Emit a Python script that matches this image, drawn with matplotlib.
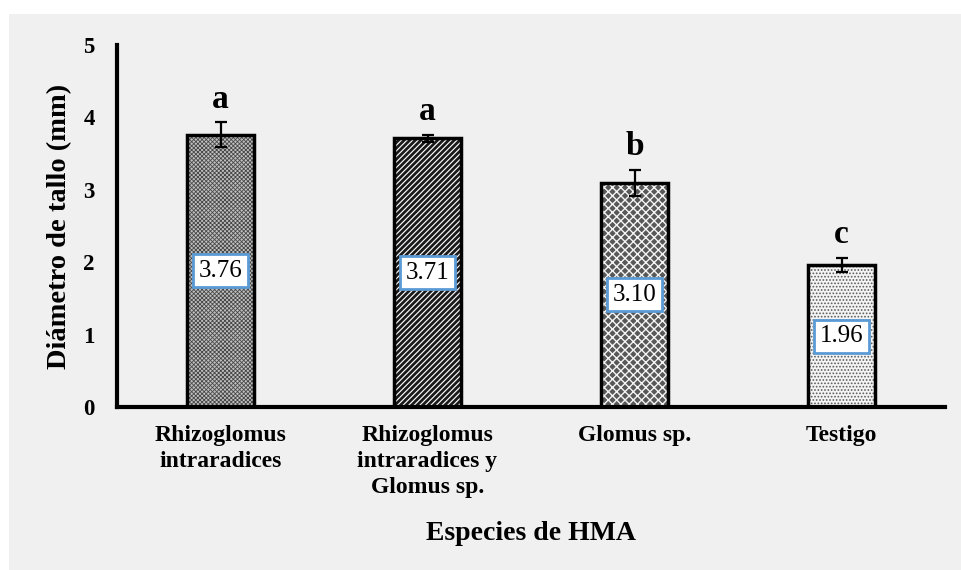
import matplotlib
matplotlib.use("Agg")
import matplotlib.pyplot as plt
from matplotlib.patches import Rectangle

categories = ["Rhizoglomus\nintraradices", "Rhizoglomus\nintraradices y\nGlomus sp.", "Glomus sp.", "Testigo"]
values = [3.76, 3.71, 3.10, 1.96]
errors = [0.17, 0.05, 0.18, 0.10]
letters = ["a", "a", "b", "c"]
yticks = [0, 1, 2, 3, 4, 5]

plt.rcParams['font.family'] = ['Liberation Serif', 'DejaVu Serif']

fig = plt.figure(figsize=(9.61, 5.70), dpi=100)
fig.patch.set_facecolor('white')
fig.patches.append(Rectangle((9/961, 0), 1 - 9/961, 1 - 14/570, transform=fig.transFigure,
                             facecolor='#f0f0f0', edgecolor='none', zorder=-10))

ax = fig.add_axes([117/961, 1 - 407/570, (945 - 117)/961, (407 - 45)/570])
ax.set_facecolor('none')

styles = [
    dict(facecolor='#c0c0c0', hatch='xxxxxxxx', hatchcolor='#484848', hlw=0.6),
    dict(facecolor='white', hatch='//////', hatchcolor='#1a1a1a', hlw=2.0),
    dict(facecolor='#585858', hatch='xxxx', hatchcolor='#f4f4f4', hlw=1.0),
    dict(facecolor='#f4f4f4', hatch='.....', hatchcolor='#5a5a5a', hlw=0.8),
]
x = list(range(len(categories)))
for i, v in enumerate(values):
    st = styles[i]
    with plt.rc_context({'hatch.linewidth': st['hlw'], 'hatch.color': st['hatchcolor']}):
        b = ax.bar(x[i], v, width=0.32, facecolor=st['facecolor'], edgecolor=st['hatchcolor'],
                   linewidth=0, hatch=st['hatch'], zorder=2)
    p = b[0]
    for meth, arg in (('set_hatchcolor', st['hatchcolor']), ('set_hatch_linewidth', st['hlw'])):
        if hasattr(p, meth):
            try:
                getattr(p, meth)(arg)
            except Exception:
                pass
    ax.bar(x[i], v, width=0.32, facecolor='none', edgecolor='black', linewidth=2.5, zorder=3)
    ax.errorbar(x[i], v, yerr=errors[i], fmt='none', ecolor='black', elinewidth=1.6,
                capsize=4.5, capthick=1.6, zorder=4)
    ax.text(x[i], v + errors[i] + 0.2, letters[i], ha='center', va='baseline',
            fontsize=24, fontweight='bold', zorder=5)
    ax.text(x[i], v / 2, f"{v:.2f}", ha='center', va='center', fontsize=18, zorder=6,
            bbox=dict(boxstyle='square,pad=0.22', facecolor='white', edgecolor='#5b9bd5',
                      linewidth=2))

ax.set_xlim(-0.5, 3.5)
ax.set_ylim(0, 5)
ax.set_yticks(yticks)
ax.set_yticklabels([str(t) for t in yticks], fontsize=16.5, fontweight='bold')
ax.set_xticks(x)
ax.set_xticklabels(categories, fontsize=17, fontweight='bold', linespacing=1.3, va='top')
ax.tick_params(axis='both', length=0)
ax.tick_params(axis='y', pad=16)
ax.tick_params(axis='x', pad=13)
for s in ['top', 'right']:
    ax.spines[s].set_visible(False)
for s in ['left', 'bottom']:
    ax.spines[s].set_linewidth(3)
ax.set_ylabel("Diámetro de tallo (mm)", fontsize=20.5, fontweight='bold', labelpad=8)
ax.set_xlabel("Especies de HMA", fontsize=20, fontweight='bold', labelpad=17)

fig.savefig("out.png", dpi=100, facecolor=fig.get_facecolor())
